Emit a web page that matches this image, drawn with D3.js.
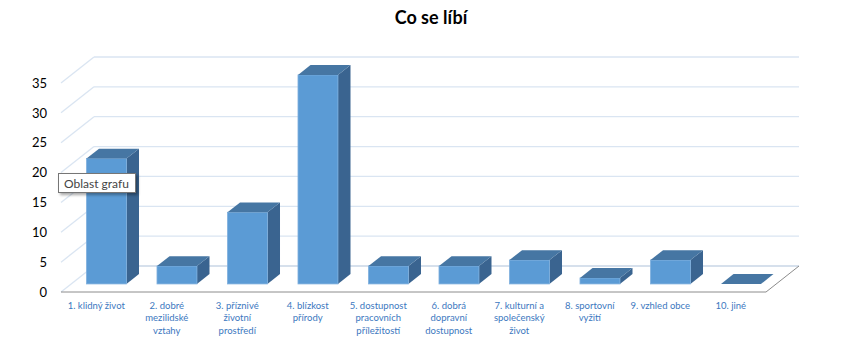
<!DOCTYPE html>
<html>
<head>
<meta charset="utf-8">
<script src="https://cdn.jsdelivr.net/npm/d3@7"></script>
<style>
  body { margin: 0; background: #fff; }
  svg { display: block; }
</style>
</head>
<body>
<div id="main"></div>
<script>
// data
var categories = [
  "1. klidný život",
  "2. dobré\nmezilidské\nvztahy",
  "3. příznivé\nživotní\nprostředí",
  "4. blízkost\npřírody",
  "5. dostupnost\npracovních\npříležitostí",
  "6. dobrá\ndopravní\ndostupnost",
  "7. kulturní a\nspolečenský\nživot",
  "8. sportovní\nvyžití",
  "9. vzhled obce",
  "10. jiné"
];
var values = [21, 3, 12, 35, 3, 3, 4, 1, 4, 0];
var yTicks = [0, 5, 10, 15, 20, 25, 30, 35];
var title = "Co se líbí";

var w = 852, h = 363;
var depthX = 33, depthY = -26;   // floor depth offset
var d0 = 0.31, d1 = 0.69;       // bar depth range

var svg = d3.select("#main").append("svg")
  .attr("width", w).attr("height", h);

var x = d3.scaleBand()
  .domain(d3.range(categories.length))
  .range([61, 766])
  .paddingInner(0)
  .paddingOuter(0);

var y = d3.scaleLinear()
  .domain([0, 35])
  .range([292, 83]);

function px(xf, d) { return xf + depthX * d; }
function py(v, d) { return y(v) + depthY * d; }

var grid = "#dae5f2";

// gridlines: left wall diagonal + back wall horizontal
yTicks.forEach(function(t) {
  if (t > 0) {
    svg.append("line")
      .attr("x1", px(61, 0)).attr("y1", py(t, 0))
      .attr("x2", px(61, 1)).attr("y2", py(t, 1))
      .attr("stroke", grid).attr("stroke-width", 1.3);
  }
  svg.append("line")
    .attr("x1", px(61, 1)).attr("y1", py(t, 1))
    .attr("x2", px(766, 1)).attr("y2", py(t, 1))
    .attr("stroke", t == 0 ? "#c9d6e6" : grid).attr("stroke-width", 1.3);
});

// floor
svg.append("line")
  .attr("x1", px(61, 0)).attr("y1", py(0, 0))
  .attr("x2", px(61, 1)).attr("y2", py(0, 1))
  .attr("stroke", grid).attr("stroke-width", 1.3);
svg.append("line")
  .attr("x1", px(61, 0)).attr("y1", py(0, 0))
  .attr("x2", px(766, 0)).attr("y2", py(0, 0))
  .attr("stroke", "#8c8c8c").attr("stroke-width", 1);
svg.append("line")
  .attr("x1", px(766, 0)).attr("y1", py(0, 0))
  .attr("x2", px(766, 1)).attr("y2", py(0, 1))
  .attr("stroke", "#8c8c8c").attr("stroke-width", 1);

// bars
var bw = x.bandwidth() * 0.567;
var bars = svg.selectAll("g.bar")
  .data(values)
  .enter()
  .append("g")
  .attr("class", "bar");

bars.each(function(v, i) {
  var g = d3.select(this);
  var xl = x(i) + (x.bandwidth() - bw) / 2;
  var xr = xl + bw;
  // side
  g.append("polygon")
    .attr("points", [
      [px(xr, d0), py(0, d0)], [px(xr, d1), py(0, d1)],
      [px(xr, d1), py(v, d1)], [px(xr, d0), py(v, d0)]
    ].join(" "))
    .attr("fill", "#3a6490");
  // front
  if (v > 0) {
    g.append("rect")
      .attr("x", px(xl, d0)).attr("y", py(v, d0))
      .attr("width", bw).attr("height", py(0, d0) - py(v, d0))
      .attr("fill", "#5b9bd5")
      .attr("stroke", "#7fb0de").attr("stroke-width", 0.8);
  }
  // top
  g.append("polygon")
    .attr("points", [
      [px(xl, d0), py(v, d0)], [px(xr, d0), py(v, d0)],
      [px(xr, d1), py(v, d1)], [px(xl, d1), py(v, d1)]
    ].join(" "))
    .attr("fill", "#4676a3");
});

// y axis
var yAxis = d3.axisLeft(y).tickValues(yTicks).tickSize(0).tickPadding(0);
var ya = svg.append("g")
  .attr("transform", "translate(47,0)")
  .call(yAxis);
ya.select(".domain").remove();
ya.selectAll("text")
  .attr("font-family", "Lato, 'Open Sans', sans-serif")
  .attr("font-size", 13)
  .attr("fill", "#000");

// category labels
svg.selectAll("text.cat")
  .data(categories)
  .enter()
  .append("text")
  .attr("class", "cat")
  .attr("text-anchor", "middle")
  .attr("font-family", "Lato, 'Open Sans', sans-serif")
  .attr("font-size", 9.5)
  .attr("fill", "#3c78c0")
  .each(function(d, i) {
    var t = d3.select(this);
    d.split("\n").forEach(function(line, k) {
      t.append("tspan")
        .attr("x", x(i) + x.bandwidth() / 2)
        .attr("y", 309 + k * 12.3)
        .text(line);
    });
  });

// title
svg.append("text")
  .attr("x", 431).attr("y", 24)
  .attr("text-anchor", "middle")
  .attr("font-family", "Lato, 'Open Sans', sans-serif")
  .attr("font-weight", "bold")
  .attr("font-size", 18)
  .attr("fill", "#000")
  .text(title);

// tooltip
var defs = svg.append("defs");
var f = defs.append("filter").attr("id", "sh").attr("x", "-20%").attr("y", "-20%")
  .attr("width", "150%").attr("height", "180%");
f.append("feDropShadow").attr("dx", 2).attr("dy", 2).attr("stdDeviation", 1.5)
  .attr("flood-color", "#000").attr("flood-opacity", 0.35);
svg.append("rect")
  .attr("x", 58.5).attr("y", 173.5).attr("width", 77).attr("height", 19)
  .attr("fill", "#fff").attr("stroke", "#767676").attr("stroke-width", 1)
  .attr("filter", "url(#sh)");
svg.append("text")
  .attr("x", 64).attr("y", 187.5)
  .attr("font-family", "Lato, 'Open Sans', sans-serif")
  .attr("font-size", 12)
  .attr("fill", "#444")
  .text("Oblast grafu");
</script>
</body>
</html>
